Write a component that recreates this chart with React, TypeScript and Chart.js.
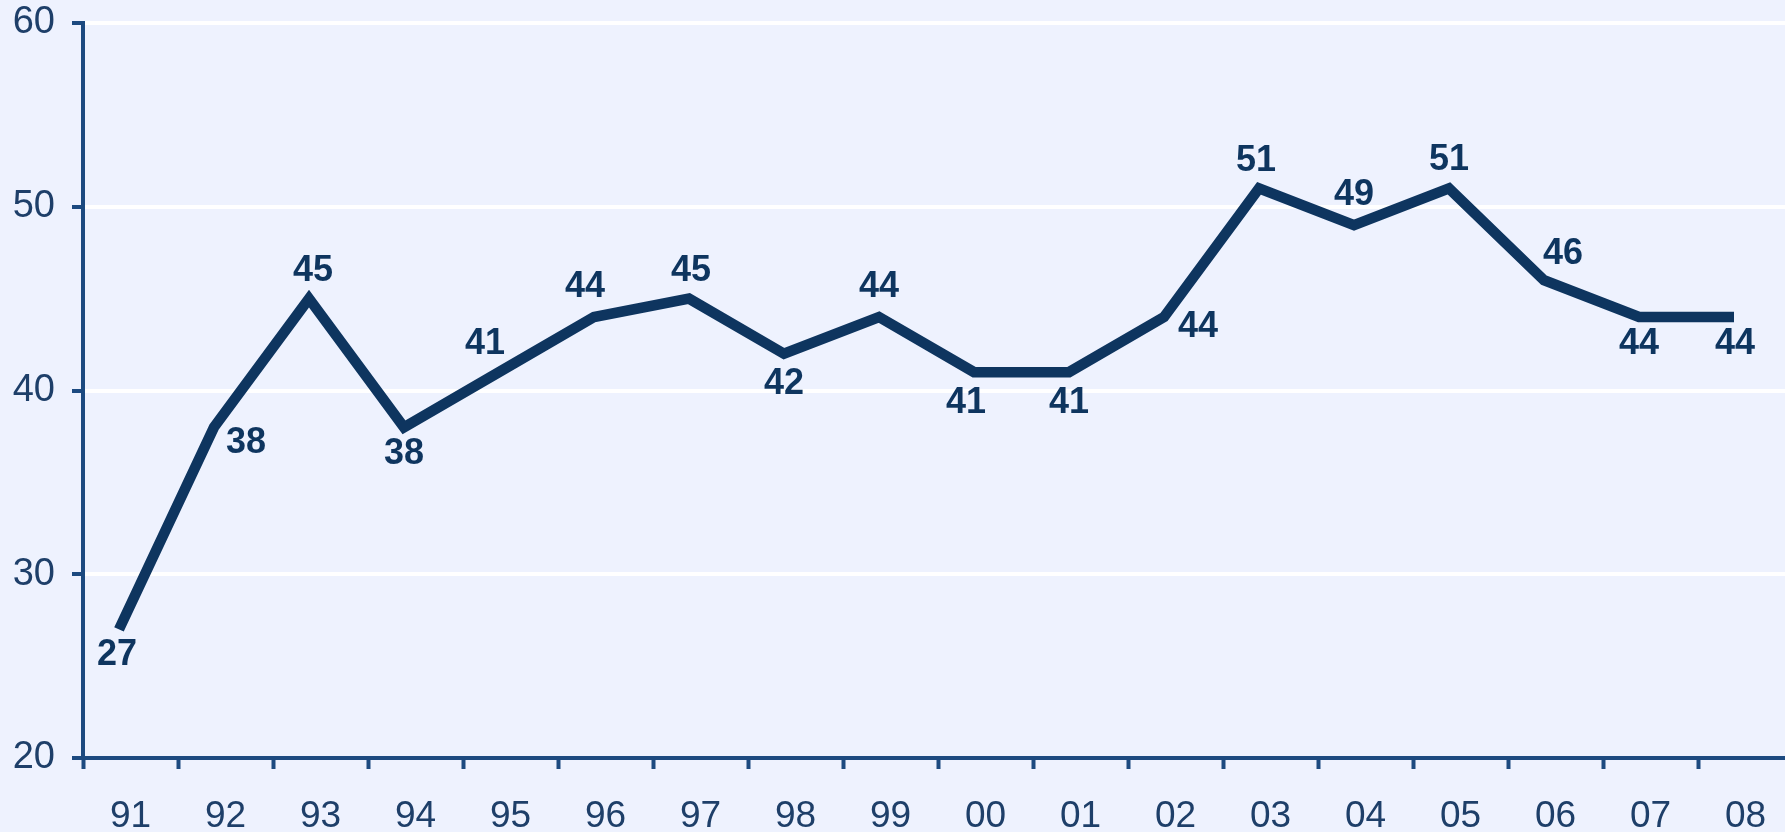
import React, { useEffect, useRef } from "react";
import { Chart, registerables } from "chart.js";

Chart.register(...registerables);

const years = ["91", "92", "93", "94", "95", "96", "97", "98", "99", "00", "01", "02", "03", "04", "05", "06", "07", "08"];
const values = [27, 38, 45, 38, 41, 44, 45, 42, 44, 41, 41, 44, 51, 49, 51, 46, 44, 44];
const yMin = 20;
const yMax = 60;
const yStep = 10;

// label offsets (px) relative to each point
const labelDx = [-2, 32, 4, 0, -14, -9, 2, 0, 0, -8, 0, 34, -3, 0, 0, 19, 0, 1];
const labelDy = [26, 16, -28, 27, -28, -30, -28, 30, -30, 31, 31, 10, -27, -30, -28, -26, 27, 27];

const BG = "#EEF2FE";
const AXIS = "#1C4A80";
const TEXT = "#1E3F69";
const LINE = "#0E355F";
const FONT = "'Liberation Sans', Arial, sans-serif";

const CANVAS_W = 1800;
const CANVAS_H = 832;
const POINT_SHIFT = 11.5 / 95;

const labelPlugin = {
  id: "valueLabels",
  afterDatasetsDraw(chart: any) {
    const ctx = chart.ctx;
    const meta = chart.getDatasetMeta(0);
    ctx.save();
    ctx.font = `bold 36px ${FONT}`;
    ctx.fillStyle = LINE;
    ctx.textAlign = "center";
    ctx.textBaseline = "middle";
    meta.data.forEach((pt: any, i: number) => {
      ctx.fillText(String(values[i]), pt.x + labelDx[i], pt.y + labelDy[i]);
    });
    ctx.restore();
  },
};

export default function App() {
  const ref = useRef<HTMLCanvasElement | null>(null);

  useEffect(() => {
    document.body.style.margin = "0";
    document.body.style.background = BG;
    const canvas = ref.current;
    if (!canvas) return;
    const chart = new Chart(canvas, {
      type: "line",
      data: {
        labels: years,
        datasets: [
          {
            data: values.map((v, i) => ({ x: i, y: v })),
            xAxisID: "xp",
            yAxisID: "y",
            borderColor: LINE,
            borderWidth: 10.5,
            borderJoinStyle: "miter",
            borderCapStyle: "butt",
            pointRadius: 0,
            tension: 0,
            fill: false,
          },
        ],
      },
      options: {
        responsive: false,
        animation: false,
        layout: { padding: { top: 23, right: CANVAS_W - 1793, left: 0, bottom: 0 } },
        plugins: { legend: { display: false }, tooltip: { enabled: false } },
        scales: {
          x: {
            type: "category",
            position: "bottom",
            offset: true,
            afterFit(scale: any) {
              scale.height = CANVAS_H - 758;
              scale.paddingLeft = 0;
              scale.paddingRight = 0;
            },
            grid: {
              offset: true,
              drawOnChartArea: false,
              drawTicks: true,
              tickLength: 11,
              tickColor: AXIS,
              tickWidth: 4,
            },
            border: { display: true, color: AXIS, width: 4 },
            ticks: {
              color: TEXT,
              font: { family: FONT, size: 37 },
              padding: 26,
              maxRotation: 0,
              autoSkip: false,
            },
          },
          xp: {
            type: "linear",
            display: false,
            min: -0.5 + POINT_SHIFT,
            max: years.length - 0.5 + POINT_SHIFT,
          },
          y: {
            type: "linear",
            position: "left",
            min: yMin,
            max: yMax,
            afterFit(scale: any) {
              scale.width = 83;
              scale.paddingTop = 0;
              scale.paddingBottom = 0;
            },
            grid: {
              color: "#FFFFFF",
              lineWidth: 4,
              drawTicks: true,
              tickLength: 11,
              tickColor: AXIS,
              tickWidth: 4,
            },
            border: { display: true, color: AXIS, width: 4 },
            ticks: {
              stepSize: yStep,
              color: TEXT,
              font: { family: FONT, size: 38 },
              padding: 17,
            },
          },
        },
      },
      plugins: [labelPlugin],
    } as any);
    return () => chart.destroy();
  }, []);

  return (
    <div style={{ width: 1785, height: CANVAS_H, overflow: "hidden", background: BG }}>
      <canvas ref={ref} width={CANVAS_W} height={CANVAS_H} style={{ display: "block", width: CANVAS_W, height: CANVAS_H }} />
    </div>
  );
}
